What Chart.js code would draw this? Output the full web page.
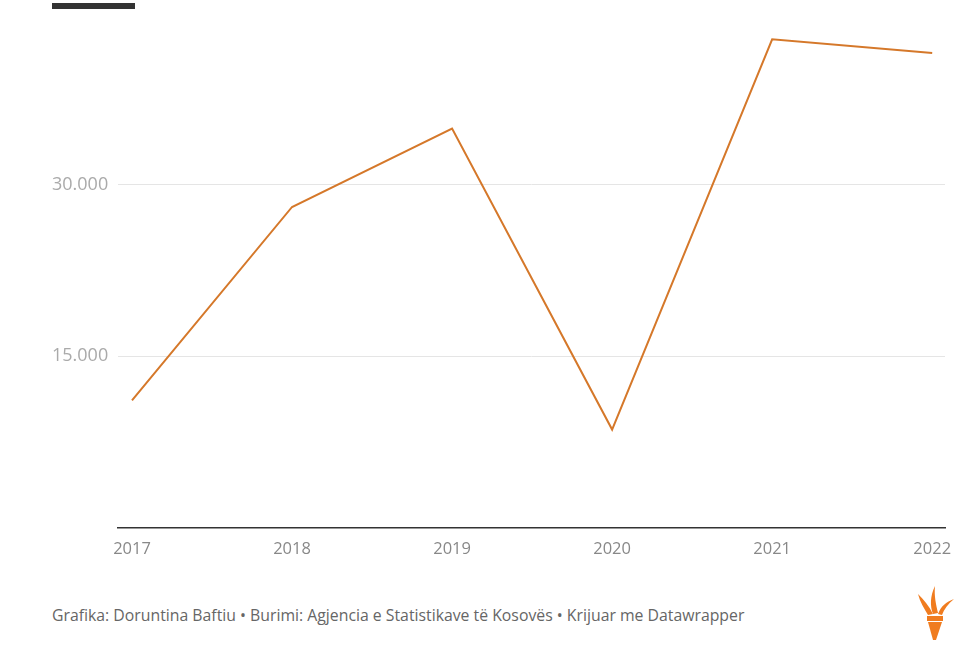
<!DOCTYPE html>
<html>
<head>
<meta charset="utf-8">
<script src="https://cdn.jsdelivr.net/npm/chart.js@4"></script>
<style>
  body { margin: 0; background: #fff; width: 980px; height: 662px; overflow: hidden; position: relative; font-family: "Open Sans", sans-serif; }
  #topbar { position: absolute; left: 52px; top: 3px; width: 83px; height: 6px; background: #333; }
  #wrap { position: absolute; left: 0; top: 0; width: 980px; height: 570px; }
  #footer { position: absolute; left: 52px; top: 604px; font-size: 15.8px; color: #666; }
  #logo { position: absolute; left: 912px; top: 582px; }
</style>
</head>
<body>
<div id="topbar"></div>
<div id="wrap"><canvas id="lineChart"></canvas></div>
<div id="footer">Grafika: Doruntina Baftiu • Burimi: Agjencia e Statistikave të Kosovës • Krijuar me Datawrapper</div>
<svg id="logo" width="46" height="62" viewBox="0 0 46 62">
  <g fill="#f07c1f">
    <path d="M16 40 L30 40 L24 58 L21 58 Z"/>
    <path d="M15 34 L31 34 L31 39 L15 39 Z"/>
    <path d="M16 33 C12 26 8 20 6 12 C12 18 17 24 21 32 Z"/>
    <path d="M21 32 C18 24 18 14 23 4 C22 14 24 22 26 31 Z"/>
    <path d="M26 32 C29 24 34 20 42 17 C36 22 32 27 30 33 Z"/>
  </g>
</svg>
<script>
// values
const years = [2017, 2018, 2019, 2020, 2021, 2022]
const values = [11150, 28050, 34900, 8600, 42700, 41500]
const yTicks = [15000, 30000]

const points = years.map((y, i) => ({x: y, y: values[i]}))

new Chart(document.getElementById('lineChart'), {
  type: 'line',
  data: {
    datasets: [{
      data: points,
      borderColor: '#d5782a',
      borderWidth: 2,
      pointRadius: 0,
      tension: 0,
      fill: false
    }]
  },
  options: {
    responsive: true,
    maintainAspectRatio: false,
    animation: false,
    layout: {padding: {top: 13, right: 35, left: 52, bottom: 0}},
    plugins: {legend: {display: false}, tooltip: {enabled: false}},
    scales: {
      x: {
        type: 'linear',
        min: 2016.9125,
        max: 2022.08,
        afterBuildTicks: s => { s.ticks = years.map(v => ({value: v})) },
        afterFit: s => { s.height = 42 },
        grid: {display: false, drawTicks: false},
        border: {display: true, color: '#333', width: 1.5},
        ticks: {
          padding: 11,
          color: '#888',
          font: {family: 'Open Sans', size: 16.5},
          maxRotation: 0,
          callback: v => String(v)
        }
      },
      y: {
        min: 0,
        max: 45000,
        afterBuildTicks: s => { s.ticks = yTicks.map(v => ({value: v})) },
        afterFit: s => { s.width = 66; s.paddingTop = 0; s.paddingBottom = 0 },
        border: {display: false},
        grid: {color: '#e5e5e5', lineWidth: 1, drawTicks: false},
        ticks: {
          crossAlign: 'far',
          padding: 8,
          color: '#aaa',
          font: {family: 'Open Sans', size: 18},
          callback: v => v.toLocaleString('de-DE')
        }
      }
    }
  }
})
</script>
</body>
</html>
